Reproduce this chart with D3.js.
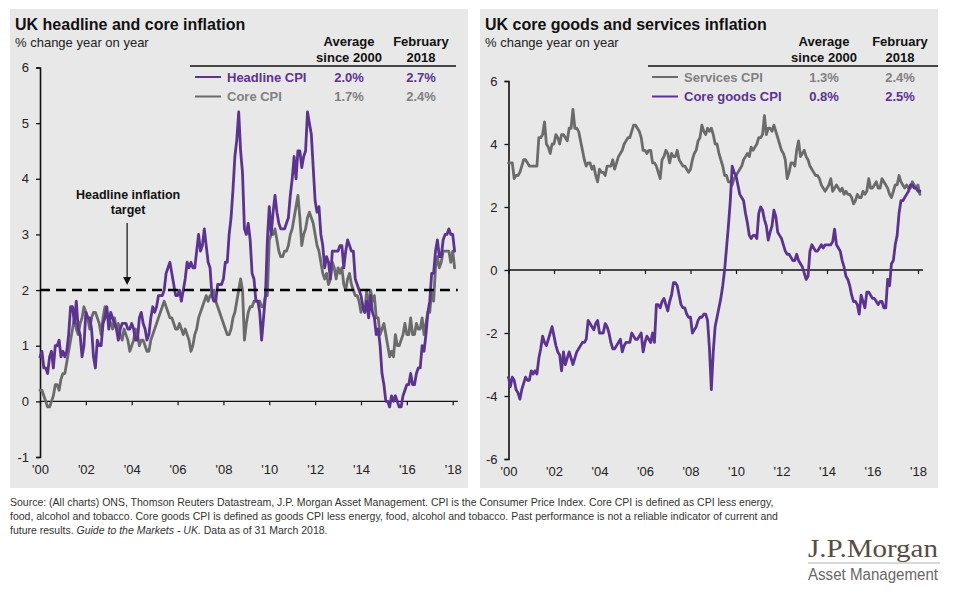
<!DOCTYPE html>
<html>
<head>
<meta charset="utf-8">
<script src="https://cdn.jsdelivr.net/npm/d3@7"></script>
<style>
  body { margin: 0; background: #ffffff; }
  svg { display: block; font-family: Arial, "Liberation Sans", sans-serif; }
</style>
</head>
<body>
<svg id="chart" width="960" height="599"></svg>
<script>
// ---------------- DATA (monthly, Jan 2000 – Feb 2018) ----------------
const startYear = 2000;

const headlineCPI = [
  0.8,0.9,0.6,0.6,0.5,0.8,0.9,0.6,1.0,1.0,1.1,0.8,   // 2000
  0.9,0.8,0.9,1.2,1.7,1.7,1.4,1.8,1.3,1.2,0.8,1.0,   // 2001
  1.6,1.5,1.5,1.3,0.8,0.6,1.1,1.0,1.0,1.4,1.5,1.7,   // 2002
  1.3,1.6,1.5,1.4,1.3,1.1,1.3,1.4,1.4,1.4,1.3,1.3,   // 2003
  1.4,1.3,1.1,1.1,1.5,1.6,1.4,1.3,1.1,1.2,1.5,1.7,   // 2004
  1.6,1.7,1.9,1.9,1.9,2.0,2.3,2.4,2.5,2.3,2.1,1.9,   // 2005
  1.9,2.0,1.8,2.0,2.2,2.5,2.4,2.5,2.4,2.4,2.7,3.0,   // 2006
  2.7,2.8,3.1,2.8,2.5,2.4,1.9,1.8,1.8,2.1,2.1,2.1,   // 2007
  2.2,2.5,2.5,3.0,3.3,3.8,4.4,4.7,5.2,4.5,4.1,3.1,   // 2008
  3.0,3.2,2.9,2.3,2.2,1.8,1.8,1.6,1.1,1.5,1.9,2.9,   // 2009
  3.5,3.0,3.4,3.7,3.4,3.2,3.1,3.1,3.1,3.2,3.3,3.7,   // 2010
  4.0,4.4,4.0,4.5,4.5,4.2,4.4,4.5,5.2,5.0,4.8,4.2,   // 2011
  3.6,3.4,3.5,3.0,2.8,2.4,2.6,2.5,2.2,2.7,2.7,2.7,   // 2012
  2.7,2.8,2.8,2.4,2.7,2.9,2.8,2.7,2.7,2.2,2.1,2.0,   // 2013
  1.9,1.7,1.6,1.8,1.5,1.9,1.6,1.5,1.2,1.3,1.0,0.5,   // 2014
  0.3,0.0,0.0,-0.1,0.1,0.0,0.1,0.0,-0.1,-0.1,0.1,0.2, // 2015
  0.3,0.3,0.5,0.3,0.3,0.5,0.6,0.6,1.0,0.9,1.2,1.6,   // 2016
  1.8,2.3,2.3,2.7,2.9,2.6,2.6,2.9,3.0,3.0,3.1,3.0,   // 2017
  3.0,2.7                                            // 2018
];

const coreCPI = [
  0.2,0.2,0.1,0.0,-0.1,-0.1,0.0,0.1,0.3,0.3,0.2,0.4, // 2000
  0.5,0.5,0.7,0.9,1.1,1.3,1.5,1.3,1.2,1.4,1.5,1.7,   // 2001
  1.6,1.5,1.3,1.5,1.6,1.6,1.5,1.4,1.2,1.5,1.7,1.6,   // 2002
  1.5,1.4,1.3,1.5,1.3,1.4,1.2,1.1,1.3,1.2,1.1,0.9,   // 2003
  1.0,1.1,1.3,1.2,1.0,1.1,1.1,1.0,0.9,0.9,1.1,1.2,   // 2004
  1.3,1.4,1.5,1.6,1.7,1.8,1.7,1.6,1.5,1.5,1.4,1.3,   // 2005
  1.3,1.4,1.3,1.2,1.3,1.2,1.1,0.9,1.0,1.2,1.3,1.5,   // 2006
  1.6,1.7,1.8,1.9,1.8,1.9,1.9,2.0,1.8,1.7,1.6,1.5,   // 2007
  1.4,1.3,1.2,1.2,1.3,1.5,1.6,1.8,2.0,2.2,2.0,1.1,   // 2008
  1.4,1.6,1.7,1.7,1.8,1.8,1.8,1.8,1.7,1.7,1.9,1.9,   // 2009
  2.9,3.0,3.0,3.1,2.9,2.7,2.6,2.6,2.7,2.7,2.8,3.0,   // 2010
  3.1,3.3,3.5,3.7,3.3,2.8,3.0,3.1,3.3,3.4,3.3,3.2,   // 2011
  3.0,2.8,2.7,2.5,2.3,2.2,2.3,2.1,2.2,2.5,2.4,2.2,   // 2012
  2.4,2.3,2.4,2.1,2.0,2.2,2.3,2.1,2.0,1.9,1.9,1.8,   // 2013
  1.6,1.7,1.6,2.0,1.6,2.0,1.8,1.9,1.5,1.5,1.2,1.3,   // 2014
  1.4,1.2,1.0,0.8,0.9,0.8,1.2,1.0,1.0,1.1,1.2,1.4,   // 2015
  1.2,1.2,1.5,1.2,1.2,1.4,1.3,1.3,1.5,1.2,1.4,1.6,   // 2016
  1.6,2.0,1.8,2.4,2.6,2.4,2.5,2.7,2.7,2.7,2.7,2.5,   // 2017
  2.7,2.4                                            // 2018
];

const servicesCPI = [
  3.4,3.4,3.4,2.9,3.0,3.0,3.1,3.3,3.5,3.5,3.4,3.3,   // 2000
  3.3,3.3,3.3,3.3,4.2,4.2,4.3,4.7,4.0,3.9,3.7,4.0,   // 2001
  4.0,4.3,4.2,4.0,4.3,4.3,4.2,4.1,4.5,4.5,5.1,4.5,   // 2002
  4.5,4.4,4.1,3.8,3.5,3.3,3.4,3.4,3.2,3.3,3.0,2.8,   // 2003
  3.2,3.1,3.1,3.0,3.3,3.3,3.3,3.5,3.2,3.4,3.6,3.7,   // 2004
  3.8,4.0,4.1,4.2,4.2,4.4,4.6,4.6,4.5,4.4,4.2,3.8,   // 2005
  3.8,3.7,3.8,3.8,3.4,3.4,3.3,3.1,2.9,3.5,3.6,3.8,   // 2006
  3.7,3.4,3.7,3.6,3.6,3.8,3.5,3.4,3.3,3.3,3.2,3.1,   // 2007
  3.2,3.5,3.7,3.8,4.1,4.2,4.6,4.4,4.3,4.5,4.4,4.5,   // 2008
  4.3,4.0,4.0,3.7,3.5,3.3,3.0,3.0,2.8,2.8,2.7,2.9,   // 2009
  3.0,3.1,3.2,3.3,3.5,3.6,3.7,3.6,3.9,3.8,3.9,4.0,   // 2010
  4.2,4.2,4.3,4.9,4.3,4.5,4.5,4.4,4.6,4.4,4.2,4.0,   // 2011
  3.8,3.7,3.5,2.9,3.1,3.4,3.4,3.3,3.8,4.1,3.6,3.7,   // 2012
  3.8,3.6,3.5,3.3,3.2,3.1,3.0,3.0,2.9,2.7,2.6,2.5,   // 2013
  2.6,2.7,2.9,2.5,2.6,2.7,2.6,2.5,2.6,2.4,2.5,2.4,   // 2014
  2.4,2.3,2.1,2.2,2.4,2.3,2.3,2.5,2.4,2.5,2.9,2.6,   // 2015
  2.6,2.7,2.8,2.6,2.6,2.9,2.8,2.7,2.6,2.4,2.3,2.5,   // 2016
  2.7,2.7,3.0,2.8,2.7,2.6,2.7,2.6,2.6,2.8,2.7,2.6,   // 2017
  2.7,2.4                                            // 2018
];

const coreGoodsCPI = [
  -3.4,-3.7,-3.4,-3.5,-3.8,-3.9,-4.1,-3.8,-3.6,-3.4,-3.5,-3.5, // 2000
  -3.2,-3.3,-3.2,-3.3,-2.8,-2.5,-2.1,-2.3,-2.4,-2.2,-2.0,-1.8, // 2001
  -2.1,-2.4,-2.6,-2.7,-3.2,-2.6,-3.0,-2.8,-2.6,-2.8,-3.0,-2.8, // 2002
  -2.6,-2.5,-2.4,-2.3,-2.3,-2.2,-1.6,-1.7,-1.8,-1.9,-1.7,-1.6, // 2003
  -2.0,-2.0,-2.0,-1.7,-1.8,-2.0,-2.3,-2.5,-2.5,-2.4,-2.3,-2.2, // 2004
  -2.6,-2.4,-2.3,-2.3,-2.3,-2.0,-2.1,-2.2,-2.2,-2.1,-2.0,-2.6, // 2005
  -2.3,-2.1,-2.2,-2.3,-2.0,-2.3,-1.1,-1.1,-1.2,-1.0,-0.9,-1.1, // 2006
  -1.3,-1.0,-0.8,-0.4,-0.4,-0.5,-0.8,-1.1,-1.2,-1.2,-1.4,-1.5, // 2007
  -1.5,-2.0,-1.9,-1.8,-1.6,-1.5,-1.5,-1.4,-1.4,-1.6,-2.5,-3.8, // 2008
  -2.6,-1.8,-1.5,-1.2,-0.9,-0.5,0.0,0.7,1.4,2.2,3.3,3.1,       // 2009
  3.0,2.7,2.4,2.3,2.2,1.8,1.5,1.1,1.0,1.1,1.1,1.0,             // 2010
  1.8,2.0,1.9,1.6,1.4,0.95,1.2,1.4,1.9,1.7,1.2,1.1,            // 2011
  1.0,0.8,0.6,0.5,0.5,0.4,0.3,0.3,0.5,0.3,0.2,0.1,             // 2012
  -0.1,-0.3,-0.2,0.6,0.8,0.7,0.6,0.6,0.7,0.8,0.7,0.8,          // 2013
  0.8,0.8,0.8,0.9,1.3,0.8,0.7,0.6,0.3,0.1,-0.2,-0.3,           // 2014
  -0.5,-0.8,-1.0,-1.0,-1.1,-1.4,-0.8,-1.0,-1.2,-0.7,-0.7,-0.8, // 2015
  -0.9,-0.9,-1.0,-1.1,-1.0,-1.0,-1.2,-1.2,-0.3,-0.5,0.2,0.3,   // 2016
  0.8,1.1,1.8,2.2,2.2,2.3,2.4,2.5,2.7,2.7,2.6,2.6,             // 2017
  2.5,2.5                                                      // 2018
];

const xTickYears  = [2000,2002,2004,2006,2008,2010,2012,2014,2016,2018];
const xTickLabels = ["'00","'02","'04","'06","'08","'10","'12","'14","'16","'18"];
const leftYTicks  = [-1,0,1,2,3,4,5,6];
const rightYTicks = [-6,-4,-2,0,2,4,6];
const inflationTarget = 2;

const leftLegend = [
  { name: "Headline CPI", avg: "2.0%", feb: "2.7%", series: "headline" },
  { name: "Core CPI",     avg: "1.7%", feb: "2.4%", series: "core" }
];
const rightLegend = [
  { name: "Services CPI",   avg: "1.3%", feb: "2.4%", series: "services" },
  { name: "Core goods CPI", avg: "0.8%", feb: "2.5%", series: "coregoods" }
];
const legendHeaders = [["Average", "since 2000"], ["February", "2018"]];

// ---------------- STYLE ----------------
const PURPLE = "#5c3292";
const GRAY = "#6b6b6b";
const LEGEND_GRAY = "#808080";
const PANEL_BG = "#e8e8e8";
const SANS = "Arial, 'Liberation Sans', sans-serif";

const seriesColor = { headline: PURPLE, core: GRAY, services: GRAY, coregoods: PURPLE };
const legendColor = { headline: PURPLE, core: LEGEND_GRAY, services: LEGEND_GRAY, coregoods: PURPLE };

const svg = d3.select("#chart");

function toPoints(arr) {
  return arr.map((v, i) => ({ t: startYear + i / 12, v }));
}

function drawPanel(cfg) {
  const g = svg.append("g");
  g.append("rect")
    .attr("x", cfg.panel[0]).attr("y", cfg.panel[1])
    .attr("width", cfg.panel[2]).attr("height", cfg.panel[3])
    .attr("fill", PANEL_BG);

  // titles
  g.append("text").attr("x", cfg.titleX).attr("y", 30)
    .attr("font-size", 16).attr("font-weight", "bold").attr("fill", "#111")
    .text(cfg.title);
  g.append("text").attr("x", cfg.titleX).attr("y", 47)
    .attr("font-size", 13).attr("fill", "#222")
    .text("% change year on year");

  const x = d3.scaleLinear().domain([2000, 2018]).range(cfg.xRange);
  const y = d3.scaleLinear().domain(cfg.yDomain).range(cfg.yRange);

  // y axis
  const yAxis = d3.axisLeft(y).tickValues(cfg.yTicks).tickSize(4).tickPadding(7)
    .tickFormat(d => String(d));
  const ya = g.append("g").attr("transform", `translate(${cfg.xRange[0]},0)`).call(yAxis);
  ya.select(".domain").attr("stroke", "#111").attr("stroke-width", 1.6);
  ya.selectAll(".tick line").attr("stroke", "#111").attr("stroke-width", 1.3);
  ya.selectAll(".tick text").attr("font-size", 13).attr("fill", "#222")
    .attr("font-family", SANS);

  // x axis line at zero with ticks
  const xAxis = d3.axisBottom(x).tickValues(xTickYears).tickSize(4).tickFormat("");
  const xa = g.append("g").attr("transform", `translate(0,${y(0)})`).call(xAxis);
  xa.select(".domain").remove();
  xa.selectAll(".tick line").attr("stroke", "#111").attr("stroke-width", 1.2);
  g.append("line")
    .attr("x1", x(2000)).attr("x2", x(2018.22))
    .attr("y1", y(0)).attr("y2", y(0))
    .attr("stroke", "#111").attr("stroke-width", 1.4);

  // x labels at bottom
  const xl = d3.axisBottom(x).tickValues(xTickYears).tickSize(0).tickPadding(8)
    .tickFormat((d, i) => xTickLabels[i]);
  const xlg = g.append("g").attr("transform", `translate(0,${cfg.yRange[0]})`).call(xl);
  xlg.select(".domain").remove();
  xlg.selectAll(".tick text").attr("font-size", 13).attr("fill", "#222")
    .attr("font-family", SANS);

  const line = d3.line().x(d => x(d.t)).y(d => y(d.v)).curve(d3.curveLinear);

  cfg.series.forEach(s => {
    g.append("path").datum(toPoints(s.data))
      .attr("d", line)
      .attr("fill", "none")
      .attr("stroke", seriesColor[s.key])
      .attr("stroke-width", 2.8)
      .attr("stroke-linejoin", "round")
      .attr("stroke-linecap", "round");
  });

  if (cfg.target !== undefined) {
    g.append("line")
      .attr("x1", x(2000)).attr("x2", x(2018.22))
      .attr("y1", y(cfg.target)).attr("y2", y(cfg.target))
      .attr("stroke", "#000").attr("stroke-width", 2.6)
      .attr("stroke-dasharray", "10,6");
    const ax = x(2003.8);
    g.append("text").attr("x", ax + 1).attr("y", 199)
      .attr("text-anchor", "middle").attr("font-size", 12.5).attr("font-weight", "bold")
      .attr("fill", "#111").text("Headline inflation");
    g.append("text").attr("x", ax + 1).attr("y", 214)
      .attr("text-anchor", "middle").attr("font-size", 12.5).attr("font-weight", "bold")
      .attr("fill", "#111").text("target");
    g.append("line").attr("x1", ax).attr("x2", ax)
      .attr("y1", 223).attr("y2", y(cfg.target) - 12)
      .attr("stroke", "#111").attr("stroke-width", 1.2);
    const tipY = y(cfg.target) - 5;
    g.append("path")
      .attr("d", `M${ax - 4},${tipY - 8} L${ax + 4},${tipY - 8} L${ax},${tipY} Z`)
      .attr("fill", "#111");
  }

  // legend
  const L = cfg.legend;
  legendHeaders.forEach((h, i) => {
    h.forEach((ln, j) => {
      g.append("text").attr("x", L.colX[i]).attr("y", 46 + j * 16)
        .attr("text-anchor", "middle").attr("font-size", 13).attr("font-weight", "bold")
        .attr("fill", "#111").text(ln);
    });
  });
  g.append("line").attr("x1", L.ruleX[0]).attr("x2", L.ruleX[1])
    .attr("y1", 66).attr("y2", 66).attr("stroke", "#111").attr("stroke-width", 1.4);
  L.rows.forEach((r, i) => {
    const ry = 77 + i * 19.5;
    const col = legendColor[r.series];
    g.append("line").attr("x1", L.swatchX).attr("x2", L.swatchX + 26)
      .attr("y1", ry).attr("y2", ry)
      .attr("stroke", seriesColor[r.series]).attr("stroke-width", 2);
    g.append("text").attr("x", L.swatchX + 32).attr("y", ry + 4.5)
      .attr("font-size", 13).attr("font-weight", "bold").attr("fill", col).text(r.name);
    g.append("text").attr("x", L.colX[0]).attr("y", ry + 4.5)
      .attr("text-anchor", "middle").attr("font-size", 13).attr("font-weight", "bold")
      .attr("fill", col).text(r.avg);
    g.append("text").attr("x", L.colX[1]).attr("y", ry + 4.5)
      .attr("text-anchor", "middle").attr("font-size", 13).attr("font-weight", "bold")
      .attr("fill", col).text(r.feb);
  });
}

drawPanel({
  panel: [10, 9, 458, 479],
  titleX: 15,
  title: "UK headline and core inflation",
  xRange: [40, 452.7],
  yDomain: [-1, 6],
  yRange: [457, 67.5],
  yTicks: leftYTicks,
  series: [
    { key: "core", data: coreCPI },
    { key: "headline", data: headlineCPI }
  ],
  target: inflationTarget,
  legend: { colX: [349, 421], ruleX: [190, 456], swatchX: 195, rows: leftLegend }
});

drawPanel({
  panel: [480, 9, 458, 479],
  titleX: 485,
  title: "UK core goods and services inflation",
  xRange: [508.5, 918],
  yDomain: [-6, 6],
  yRange: [459, 81],
  yTicks: rightYTicks,
  series: [
    { key: "services", data: servicesCPI },
    { key: "coregoods", data: coreGoodsCPI }
  ],
  legend: { colX: [824, 900], ruleX: [648, 938], swatchX: 652, rows: rightLegend }
});

// footer
const foot = svg.append("g").attr("font-size", 10.5).attr("fill", "#333");
foot.append("text").attr("x", 10).attr("y", 506)
  .text("Source: (All charts) ONS, Thomson Reuters Datastream, J.P. Morgan Asset Management. CPI is the Consumer Price Index. Core CPI is defined as CPI less energy,");
foot.append("text").attr("x", 10).attr("y", 520)
  .text("food, alcohol and tobacco. Core goods CPI is defined as goods CPI less energy, food, alcohol and tobacco. Past performance is not a reliable indicator of current and");
const l3 = foot.append("text").attr("x", 10).attr("y", 534);
l3.append("tspan").text("future results. ");
l3.append("tspan").attr("font-style", "italic").text("Guide to the Markets - UK.");
l3.append("tspan").text(" Data as of 31 March 2018.");

// logo
svg.append("text").attr("x", 808).attr("y", 557)
  .style("font-family", "'Liberation Serif', 'DejaVu Serif', serif")
  .attr("font-size", 26).attr("fill", "#5a4b44")
  .attr("textLength", 130).attr("lengthAdjust", "spacingAndGlyphs")
  .text("J.P.Morgan");
svg.append("line").attr("x1", 808).attr("x2", 940).attr("y1", 563).attr("y2", 563)
  .attr("stroke", "#b8b3b0").attr("stroke-width", 1.2);
svg.append("text").attr("x", 808).attr("y", 580)
  .attr("font-size", 16).attr("fill", "#6a6665")
  .attr("textLength", 130).attr("lengthAdjust", "spacingAndGlyphs")
  .text("Asset Management");
</script>
</body>
</html>
